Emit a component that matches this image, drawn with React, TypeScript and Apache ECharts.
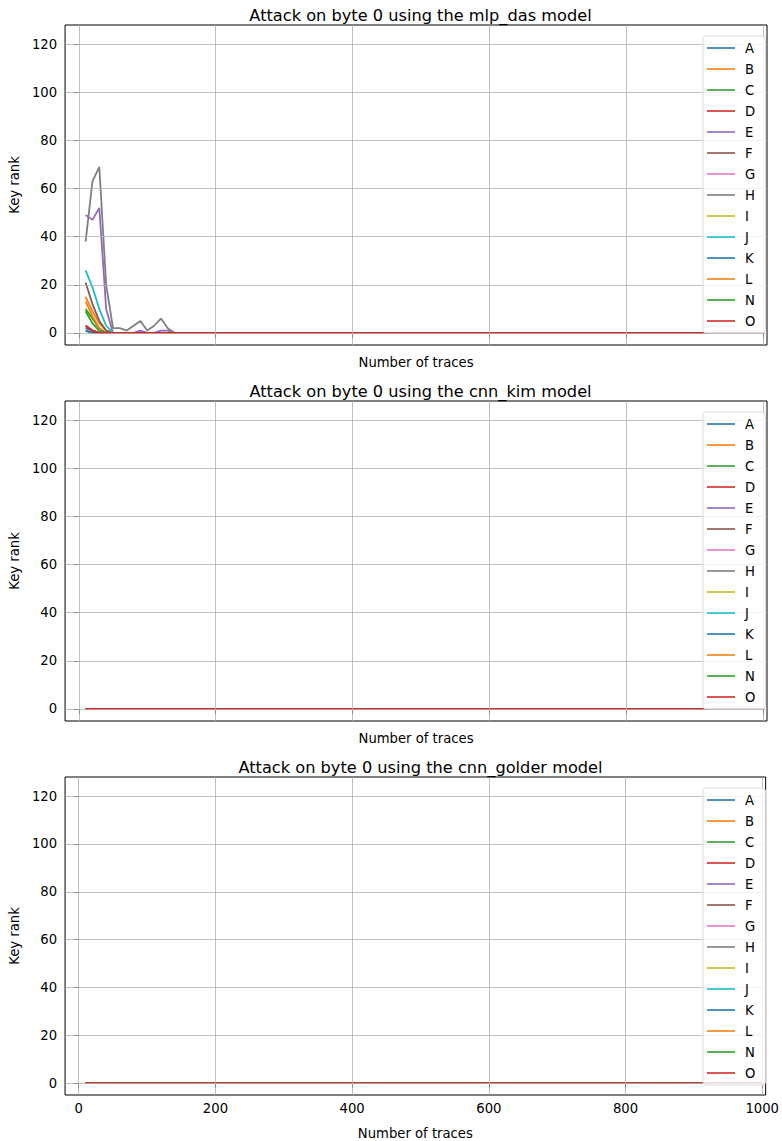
import React, { useEffect, useRef } from "react";
import * as echarts from "echarts";

// Number of traces (x values)
const traces = [
  10, 20, 30, 40, 50, 60, 70, 80, 90, 100, 110, 120, 130, 140, 150, 160, 170, 180, 190, 200,
  210, 220, 230, 240, 250, 260, 270, 280, 290, 300, 310, 320, 330, 340, 350, 360, 370, 380, 390, 400,
  410, 420, 430, 440, 450, 460, 470, 480, 490, 500, 510, 520, 530, 540, 550, 560, 570, 580, 590, 600,
  610, 620, 630, 640, 650, 660, 670, 680, 690, 700, 710, 720, 730, 740, 750, 760, 770, 780, 790, 800,
  810, 820, 830, 840, 850, 860, 870, 880, 890, 900, 910, 920, 930, 940, 950, 960, 970, 980, 990, 1000,
];

const seriesNames = ["A", "B", "C", "D", "E", "F", "G", "H", "I", "J", "K", "L", "N", "O"];
const colors = [
  "#1f77b4", "#ff7f0e", "#2ca02c", "#d62728", "#9467bd", "#8c564b", "#e377c2",
  "#7f7f7f", "#bcbd22", "#17becf", "#1f77b4", "#ff7f0e", "#2ca02c", "#d62728",
];

const titles = [
  "Attack on byte 0 using the mlp_das model",
  "Attack on byte 0 using the cnn_kim model",
  "Attack on byte 0 using the cnn_golder model",
];

const xTicks = [0, 200, 400, 600, 800, 1000];
const yTicks = [0, 20, 40, 60, 80, 100, 120];

// mlp_das key ranks: first readings; every later trace count reads 0
const mlpA = [2, 1, 0];
const mlpB = [15, 9, 4, 1, 0];
const mlpC = [10, 6, 2, 0];
const mlpD = [3, 1, 0];
const mlpE = [49, 47, 52, 10, 0, 0, 0, 0, 1, 0, 0, 1, 1, 0];
const mlpF = [21, 12, 5, 1, 0];
const mlpG = [1, 0];
const mlpH = [38, 63, 69, 20, 2, 2, 1, 3, 5, 1, 3, 6, 2, 0];
const mlpI = [1, 0];
const mlpJ = [26, 19, 10, 3, 0];
const mlpK = [1, 0];
const mlpL = [13, 7, 2, 0];
const mlpN = [9, 4, 1, 0];
const mlpO = [3, 1, 0];

// cnn_kim and cnn_golder: key rank 0 at every trace count for every byte series
const kimRank0 = 0;
const golderRank0 = 0;

const withZeroTail = (head: number[]) =>
  traces.map((_, i) => (i < head.length ? head[i] : 0));

const mlpData = [mlpA, mlpB, mlpC, mlpD, mlpE, mlpF, mlpG, mlpH, mlpI, mlpJ, mlpK, mlpL, mlpN, mlpO].map(withZeroTail);
const kimData = seriesNames.map(() => traces.map(() => kimRank0));
const golderData = seriesNames.map(() => traces.map(() => golderRank0));

const panels = [mlpData, kimData, golderData];

export default function App() {
  const ref = useRef<HTMLDivElement>(null);
  useEffect(() => {
    if (!ref.current) return;
    const chart = echarts.init(ref.current, null, { renderer: "svg" });
    const font = "DejaVu Sans";
    const fs = 13.2;
    const step = 376;
    const gridLeft = 64;
    const gridW = 703;
    const gridTop = 25;
    const gridH = 320;

    const grids: any[] = [];
    const xAxes: any[] = [];
    const yAxes: any[] = [];
    const series: any[] = [];
    const legends: any[] = [];
    const titleArr: any[] = [];

    panels.forEach((data, k) => {
      const top = gridTop + k * step;
      grids.push({
        left: gridLeft,
        top,
        width: gridW,
        height: gridH,
        show: true,
        borderColor: "#000",
        borderWidth: 1,
        backgroundColor: "transparent",
      });
      xAxes.push({
        type: "value",
        gridIndex: k,
        min: -20,
        max: 1005,
        name: "Number of traces",
        nameLocation: "middle",
        nameGap: k === 2 ? 32 : 11,
        nameTextStyle: { fontFamily: font, fontSize: fs, color: "#000" },
        axisLine: { show: false },
        splitLine: { show: false },
        axisTick: { show: true, length: 5, customValues: xTicks, lineStyle: { color: "#000", width: 1 } },
        axisLabel: {
          show: k === 2,
          customValues: xTicks,
          formatter: (v: number) => String(v),
          fontFamily: font,
          fontSize: fs,
          color: "#000",
          margin: 7,
        },
      });
      yAxes.push({
        type: "value",
        gridIndex: k,
        min: -5,
        max: 128,
        name: "Key rank",
        nameLocation: "middle",
        nameGap: 41,
        nameRotate: 90,
        nameTextStyle: { fontFamily: font, fontSize: fs, color: "#000" },
        axisLine: { show: false },
        splitLine: { show: false },
        axisTick: { show: true, length: 5, customValues: yTicks, lineStyle: { color: "#000", width: 1 } },
        axisLabel: {
          show: true,
          customValues: yTicks,
          formatter: (v: number) => String(v),
          fontFamily: font,
          fontSize: fs,
          color: "#000",
          margin: 8,
        },
      });
      // grid lines
      series.push({
        type: "line",
        xAxisIndex: k,
        yAxisIndex: k,
        data: [],
        silent: true,
        z: 1,
        markLine: {
          silent: true,
          symbol: ["none", "none"],
          label: { show: false },
          lineStyle: { color: "#b0b0b0", width: 0.8, type: "solid" },
          data: [
            ...xTicks.map((v) => ({ xAxis: v })),
            ...yTicks.map((v) => ({ yAxis: v })),
          ],
        },
      });
      data.forEach((vals, i) => {
        series.push({
          type: "line",
          name: seriesNames[i],
          xAxisIndex: k,
          yAxisIndex: k,
          data: traces.map((t, j) => [t, vals[j]]),
          showSymbol: false,
          symbol: "none",
          color: colors[i],
          lineStyle: { width: 1.8, color: colors[i] },
          z: 2,
          silent: true,
        });
      });
      legends.push({
        data: seriesNames,
        orient: "vertical",
        left: 703,
        top: top + 11,
        icon: "rect",
        itemWidth: 28,
        itemHeight: 1.6,
        itemGap: 7,
        padding: [5, 10, 5, 4],
        backgroundColor: "rgba(255,255,255,0.8)",
        borderColor: "#d9d9d9",
        borderWidth: 1,
        borderRadius: 3,
        selectedMode: false,
        textStyle: { fontFamily: font, fontSize: fs, color: "#000", lineHeight: 14, padding: [0, 0, 0, 5] },
        z: 10,
      });
      titleArr.push({
        text: titles[k],
        left: gridLeft + gridW / 2,
        textAlign: "center",
        top: top - 23,
        textStyle: { fontFamily: font, fontSize: 16.2, fontWeight: "normal", color: "#000" },
      });
    });

    chart.setOption({
      animation: false,
      backgroundColor: "#fff",
      textStyle: { fontFamily: font },
      title: titleArr,
      grid: grids,
      xAxis: xAxes,
      yAxis: yAxes,
      legend: legends,
      series,
    });
    return () => chart.dispose();
  }, []);
  return (
    <div
      ref={ref}
      style={{ position: "absolute", left: 0, top: 0, width: 782, height: 1141 }}
    />
  );
}
